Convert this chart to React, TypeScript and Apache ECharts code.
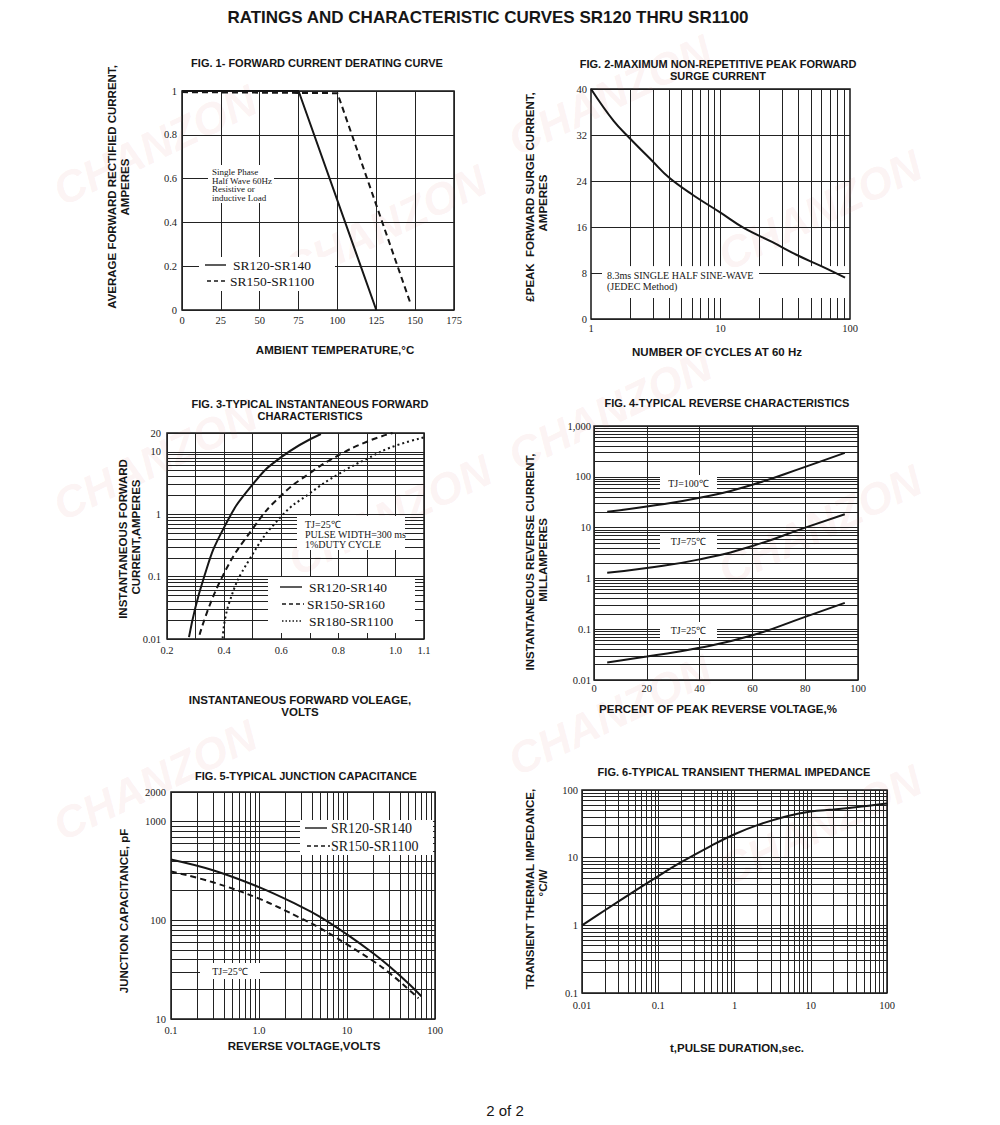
import React, { useEffect, useRef } from "react";
import * as echarts from "echarts";

// ---------------- Fig. 1 : forward current derating ----------------
const fig1SolidTemp = [0, 75, 125];
const fig1SolidCurrent = [1, 1, 0];
const fig1DashTemp = [0, 100, 147];
const fig1DashCurrent = [0.995, 0.99, 0.03];

// ---------------- Fig. 2 : peak forward surge current ----------------
const fig2Cycles = [1, 1.5, 2, 3, 4, 6, 10, 15, 25, 40, 60, 91.6];
const fig2Surge = [40, 34.4, 31.4, 27.4, 24.6, 21.7, 18.5, 15.9, 13.4, 11.0, 9.2, 7.2];

// ---------------- Fig. 3 : forward characteristics ----------------
const fig3SolidV = [0.277, 0.329, 0.4, 0.5, 0.6, 0.739];
const fig3SolidI = [0.0107, 0.096, 0.615, 3.0, 8.2, 19.3];
const fig3DashV = [0.314, 0.392, 0.506, 0.6, 0.7, 0.8, 0.9, 0.99];
const fig3DashI = [0.0117, 0.096, 0.638, 1.99, 4.54, 8.74, 14.5, 20];
const fig3DotV = [0.395, 0.418, 0.489, 0.6, 0.7, 0.8, 0.9, 1.0, 1.128];
const fig3DotI = [0.0103, 0.0383, 0.189, 0.919, 2.16, 4.38, 7.72, 12.5, 18.1];
const fig3XLabels = ["0.2", "0.4", "0.6", "0.8", "1.0", "1.1"];

// ---------------- Fig. 4 : reverse characteristics ----------------
const fig4Percent = [5, 20, 40, 60, 80, 95];
const fig4Tj100 = [20.5, 26, 38.6, 70, 157, 295];
const fig4Tj75 = [1.29, 1.6, 2.37, 4.35, 10, 18.3];
const fig4Tj25 = [0.022, 0.029, 0.043, 0.076, 0.175, 0.33];

// ---------------- Fig. 5 : junction capacitance ----------------
const fig5VoltA = [0.1, 0.3, 1, 3, 5, 10, 20, 30, 50, 70];
const fig5CapA = [414, 322, 217, 138, 108, 72, 46.1, 34.4, 22.9, 17.0];
const fig5VoltB = [0.1, 0.3, 1, 3, 5, 10, 20, 30, 50, 65];
const fig5CapB = [313, 243, 166, 105, 83, 57, 38.5, 29.5, 20.0, 16.2];

// ---------------- Fig. 6 : transient thermal impedance ----------------
const fig6Time = [0.01, 0.02, 0.05, 0.1, 0.2, 0.5, 1, 2, 5, 10, 20, 50, 100];
const fig6Impedance = [1, 1.67, 3.26, 5.35, 8.57, 15.1, 22.2, 30.3, 41.3, 48.1, 51.5, 57.4, 63];

// log grid helper (axis structure, not data)
const minors = (decades: number[]) =>
  decades.flatMap((d) => [2, 3, 4, 5, 6, 7, 8, 9].map((m) => Number((m * d).toPrecision(4))));

const SANS = '"Liberation Sans", Arial, sans-serif';
const SERIF = '"Liberation Serif", "Times New Roman", serif';
const INK = "#161616";

const pairs = (xs: number[], ys: number[]) => xs.map((x, i) => [x, ys[i]]);

const curve = (g: number, xs: number[], ys: number[], type: any, smooth: any, extra: any = {}) => ({
  type: "line",
  xAxisIndex: g,
  yAxisIndex: g,
  data: pairs(xs, ys),
  symbol: "none",
  showSymbol: false,
  smooth,
  silent: true,
  z: 100,
  lineStyle: { color: INK, width: 2, type },
  ...extra,
});

const gridLines = (g: number, data: any[]) => ({
  type: "line",
  xAxisIndex: g,
  yAxisIndex: g,
  data: [],
  silent: true,
  z: 1,
  markLine: {
    silent: true,
    z: 1,
    symbol: ["none", "none"],
    label: { show: false },
    emphasis: { disabled: true },
    lineStyle: { color: "#222", width: 1, type: "solid" },
    data,
  },
});

const vLines = (vals: number[]) => vals.map((v) => ({ xAxis: v }));
const hLines = (vals: number[]) => vals.map((v) => ({ yAxis: v }));

const axisLabel = (margin: number, formatter?: any) => ({
  color: "#222",
  fontFamily: SERIF,
  fontSize: 10.5,
  margin,
  ...(formatter ? { formatter } : {}),
});
const split = (show: boolean) => ({ show, lineStyle: { color: "#222", width: 1 } });
const baseAxis = (g: number) => ({
  gridIndex: g,
  axisLine: { show: false },
  axisTick: { show: false },
});

const fmt = (v: number) => String(Number(v.toPrecision(6)));

const txt = (x: number, y: number, text: string, size: number, o: any = {}) => ({
  type: "text",
  x,
  y,
  z: o.z ?? 60,
  rotation: o.rotation ?? 0,
  silent: true,
  style: {
    text,
    fill: o.fill ?? INK,
    fontSize: size,
    fontFamily: o.family ?? SANS,
    fontWeight: o.weight ?? "bold",
    fontStyle: o.fontStyle ?? "normal",
    align: o.align ?? "center",
    textAlign: o.align ?? "center",
    verticalAlign: "middle",
    textVerticalAlign: "middle",
  },
});
const serif = (x: number, y: number, text: string, size: number, align = "left") =>
  txt(x, y, text, size, { family: SERIF, weight: "normal", align, z: 56 });
const box = (x: number, y: number, w: number, h: number) => ({
  type: "rect",
  silent: true,
  z: 50,
  shape: { x, y, width: w, height: h },
  style: { fill: "#fff" },
});
const seg = (x1: number, y1: number, x2: number, y2: number, dash?: number[]) => ({
  type: "line",
  silent: true,
  z: 56,
  shape: { x1, y1, x2, y2 },
  style: { stroke: INK, lineWidth: 1.4, lineDash: dash ?? null },
});
const mark = (x: number, y: number) =>
  txt(x, y, "CHANZON", 44, { fill: "rgba(225,140,140,0.11)", fontStyle: "italic", rotation: 0.45, z: 0 });

function buildOption() {
  const fig2Verticals = [...minors([1]), 10, ...minors([10])];
  const fig2Segments = fig2Verticals.flatMap((v) => [
    [{ coord: [v, 40] }, { coord: [v, 9.2] }],
    [{ coord: [v, 3.65] }, { coord: [v, 0] }],
  ]);

  const graphic: any[] = [
    // watermarks
    mark(155, 145), mark(385, 225), mark(610, 95), mark(820, 210),
    mark(155, 460), mark(390, 515), mark(610, 410), mark(820, 525),
    mark(610, 715), mark(155, 780), mark(820, 825),
    // page title & footer
    txt(488, 17, "RATINGS AND CHARACTERISTIC CURVES SR120 THRU SR1100", 17),
    txt(505, 1110, "2 of 2", 15, { weight: "normal" }),

    // ---- Fig 1
    txt(317, 63, "FIG. 1- FORWARD CURRENT DERATING CURVE", 11),
    txt(112, 187, "AVERAGE FORWARD RECTIFIED CURRENT,", 11.5, { rotation: Math.PI / 2 }),
    txt(125, 187, "AMPERES", 11.5, { rotation: Math.PI / 2 }),
    txt(335, 350, "AMBIENT TEMPERATURE,°C", 11.5),
    box(208, 165, 66, 38),
    serif(212, 172, "Single Phase", 9),
    serif(212, 180.5, "Half Wave 60Hz", 9),
    serif(212, 189, "Resistive or", 9),
    serif(212, 197.5, "inductive Load", 9),
    box(199, 257, 136, 34),
    seg(205, 265, 226, 265),
    serif(233, 265, "SR120-SR140", 13.5),
    seg(207, 281, 228, 281, [4, 3]),
    serif(230, 281, "SR150-SR1100", 13.5),

    // ---- Fig 2
    txt(718, 64, "FIG. 2-MAXIMUM NON-REPETITIVE PEAK FORWARD", 11),
    txt(718, 76, "SURGE CURRENT", 11),
    txt(530, 197, "£PEAK  FORWARD SURGE CURRENT,", 11.5, { rotation: Math.PI / 2 }),
    txt(543, 203, "AMPERES", 11.5, { rotation: Math.PI / 2 }),
    txt(717, 352, "NUMBER OF CYCLES AT 60 Hz", 11.5),
    box(602, 268, 157, 11),
    serif(607, 275, "8.3ms SINGLE HALF SINE-WAVE", 10),
    serif(607, 286.5, "(JEDEC Method)", 10),

    // ---- Fig 3
    txt(310, 404, "FIG. 3-TYPICAL INSTANTANEOUS FORWARD", 11),
    txt(310, 416, "CHARACTERISTICS", 11),
    txt(123, 539, "INSTANTANEOUS FORWARD", 11.5, { rotation: Math.PI / 2 }),
    txt(136, 537, "CURRENT,AMPERES", 11.5, { rotation: Math.PI / 2 }),
    txt(300, 700, "INSTANTANEOUS FORWARD VOLEAGE,", 11.5),
    txt(300, 712, "VOLTS", 11.5),
    box(297, 516, 108, 34),
    serif(305, 524, "TJ=25℃", 10),
    serif(305, 534.5, "PULSE WIDTH=300 ms", 10),
    serif(305, 544.5, "1%DUTY CYCLE", 10),
    box(268, 577, 147, 56),
    seg(280, 587, 302, 587),
    serif(309, 587, "SR120-SR140", 13.5),
    seg(282, 604, 304, 604, [4, 3]),
    serif(307, 604, "SR150-SR160", 13.5),
    seg(282, 621, 302, 621, [1.5, 2]),
    serif(309, 621, "SR180-SR1100", 13.5),

    // ---- Fig 4
    txt(727, 403, "FIG. 4-TYPICAL REVERSE CHARACTERISTICS", 11),
    txt(530, 562, "INSTANTANEOUS REVERSE CURRENT,", 11.5, { rotation: Math.PI / 2 }),
    txt(543, 560, "MILLAMPERES", 11.5, { rotation: Math.PI / 2 }),
    txt(718, 709, "PERCENT OF PEAK REVERSE VOLTAGE,%", 11.5),
    box(660, 475, 57, 16),
    serif(688.5, 483, "TJ=100℃", 10, "center"),
    box(660, 533, 57, 16),
    serif(688.5, 541, "TJ=75℃", 10, "center"),
    box(660, 622, 57, 16),
    serif(688.5, 630, "TJ=25℃", 10, "center"),

    // ---- Fig 5
    txt(306, 776, "FIG. 5-TYPICAL JUNCTION CAPACITANCE", 11),
    txt(124, 911, "JUNCTION CAPACITANCE, pF", 11.5, { rotation: Math.PI / 2 }),
    txt(304, 1046, "REVERSE VOLTAGE,VOLTS", 11.5),
    box(300, 820, 133, 35),
    seg(305, 828, 327, 828),
    serif(331, 828, "SR120-SR140", 14),
    seg(307, 846, 330, 846, [4, 3]),
    serif(331, 846, "SR150-SR1100", 14),
    box(200, 963, 60, 16),
    serif(230, 971.5, "TJ=25℃", 10, "center"),

    // ---- Fig 6
    txt(734, 772, "FIG. 6-TYPICAL TRANSIENT THERMAL IMPEDANCE", 11),
    txt(530, 889, "TRANSIENT THERMAL IMPEDANCE,", 11.5, { rotation: Math.PI / 2 }),
    txt(543, 883, "°C/W", 11.5, { rotation: Math.PI / 2 }),
    txt(737, 1048, "t,PULSE DURATION,sec.", 11.5),
  ];

  const gridBox = { show: true, borderColor: INK, borderWidth: 1.5, backgroundColor: "transparent", containLabel: false };

  return {
    animation: false,
    backgroundColor: "#fff",
    grid: [
      { left: 182, top: 91, width: 272, height: 219, ...gridBox },
      { left: 591, top: 89, width: 259, height: 230, ...gridBox },
      { left: 167, top: 433, width: 257, height: 206, ...gridBox },
      { left: 594, top: 426, width: 264, height: 254, ...gridBox },
      { left: 171, top: 792, width: 264, height: 227, ...gridBox },
      { left: 582, top: 790, width: 305, height: 203, ...gridBox },
    ],
    xAxis: [
      { ...baseAxis(0), type: "value", min: 0, max: 175, interval: 25, splitLine: split(true), axisLabel: axisLabel(5) },
      { ...baseAxis(1), type: "log", logBase: 10, min: 1, max: 100, splitLine: split(false), axisLabel: axisLabel(4, fmt) },
      {
        ...baseAxis(2), type: "value", min: 0.2, max: 1.1, interval: 0.1, splitLine: split(true),
        axisLabel: axisLabel(6, (v: number) => {
          const s = (Math.round(v * 10) / 10).toFixed(1);
          return fig3XLabels.includes(s) ? s : "";
        }),
      },
      { ...baseAxis(3), type: "value", min: 0, max: 100, interval: 20, splitLine: split(true), axisLabel: axisLabel(3) },
      {
        ...baseAxis(4), type: "log", logBase: 10, min: 0.1, max: 100, splitLine: split(true),
        axisLabel: axisLabel(6, (v: number) => (Math.abs(v - 1) < 1e-9 ? "1.0" : fmt(v))),
      },
      { ...baseAxis(5), type: "log", logBase: 10, min: 0.01, max: 100, splitLine: split(true), axisLabel: axisLabel(7, fmt) },
    ],
    yAxis: [
      { ...baseAxis(0), type: "value", min: 0, max: 1, interval: 0.2, splitLine: split(true), axisLabel: axisLabel(5) },
      { ...baseAxis(1), type: "value", min: 0, max: 40, interval: 8, splitLine: split(true), axisLabel: axisLabel(4) },
      { ...baseAxis(2), type: "log", logBase: 10, min: 0.01, max: 20, splitLine: split(true), axisLabel: axisLabel(6, fmt) },
      { ...baseAxis(3), type: "log", logBase: 10, min: 0.01, max: 1000, splitLine: split(true), axisLabel: axisLabel(3) },
      { ...baseAxis(4), type: "log", logBase: 10, min: 10, max: 2000, splitLine: split(true), axisLabel: axisLabel(5, fmt) },
      { ...baseAxis(5), type: "log", logBase: 10, min: 0.1, max: 100, splitLine: split(true), axisLabel: axisLabel(4, fmt) },
    ],
    series: [
      // minor gridlines
      gridLines(1, fig2Segments),
      gridLines(2, hLines(minors([0.01, 0.1, 1]))),
      gridLines(3, hLines(minors([0.01, 0.1, 1, 10, 100]))),
      gridLines(4, [...vLines(minors([0.1, 1, 10])), ...hLines(minors([10, 100]))]),
      gridLines(5, [...vLines(minors([0.01, 0.1, 1, 10])), ...hLines(minors([0.1, 1, 10]))]),
      // curves
      curve(0, fig1SolidTemp, fig1SolidCurrent, "solid", false),
      curve(0, fig1DashTemp, fig1DashCurrent, [6, 4], false),
      curve(1, fig2Cycles, fig2Surge, "solid", 0.4),
      curve(2, fig3SolidV, fig3SolidI, "solid", 0.5),
      curve(2, fig3DashV, fig3DashI, [6, 4], 0.5),
      curve(2, fig3DotV, fig3DotI, [2, 3], 0.5, { clip: false }),
      curve(3, fig4Percent, fig4Tj100, "solid", 0.5),
      curve(3, fig4Percent, fig4Tj75, "solid", 0.5),
      curve(3, fig4Percent, fig4Tj25, "solid", 0.5),
      curve(4, fig5VoltA, fig5CapA, "solid", 0.4),
      curve(4, fig5VoltB, fig5CapB, [6, 4], 0.4),
      curve(5, fig6Time, fig6Impedance, "solid", 0.4),
    ],
    graphic,
  };
}

export default function App() {
  const ref = useRef<HTMLDivElement>(null);
  useEffect(() => {
    document.body.style.margin = "0";
    const chart = echarts.init(ref.current!, null, { renderer: "svg", width: 1000, height: 1125 });
    chart.setOption(buildOption() as any);
    return () => chart.dispose();
  }, []);
  return <div ref={ref} style={{ width: 1000, height: 1125, background: "#fff" }} />;
}
